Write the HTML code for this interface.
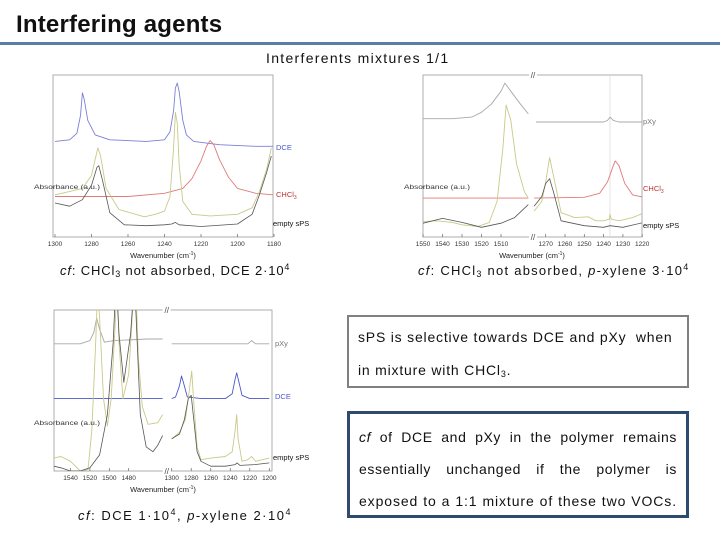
<!DOCTYPE html>
<html><head><meta charset="utf-8">
<style>
body{margin:0;background:#fff;}
#page{position:relative;width:720px;height:540px;overflow:hidden;font-family:"Liberation Sans",sans-serif;background:#fff;}
.abs{position:absolute;}
.cap{font-size:13px;color:#111;white-space:nowrap;}
.box{position:absolute;box-sizing:border-box;background:#fff;font-size:14px;color:#111;letter-spacing:0.6px;}
.jl{text-align:justify;text-align-last:justify;white-space:nowrap;}
sub{font-size:9px;vertical-align:-2px;}
sup{font-size:9px;vertical-align:5px;}
</style></head><body>
<div id="page">
<div class="abs" style="left:16px;top:11px;font-size:24px;font-weight:bold;color:#111;letter-spacing:0.2px;">Interfering agents</div>
<div class="abs" style="left:0;top:42px;width:720px;height:3px;background:#5a7fa6;"></div>
<div class="abs" style="left:266px;top:50px;font-size:14px;color:#111;letter-spacing:1.3px;">Interferents mixtures 1/1</div>
<svg id="charts" class="abs" style="left:0;top:0" width="720" height="540"></svg>
<div class="abs cap" style="left:60px;top:262px;letter-spacing:0.85px;"><i>cf</i>: CHCl<sub>3</sub> not absorbed, DCE 2·10<sup>4</sup></div>
<div class="abs cap" style="left:418px;top:262px;letter-spacing:1.25px;"><i>cf</i>: CHCl<sub>3</sub> not absorbed, <i>p</i>-xylene 3·10<sup>4</sup></div>
<div class="abs cap" style="left:78px;top:507px;letter-spacing:1.5px;"><i>cf</i>: DCE 1·10<sup>4</sup>, <i>p</i>-xylene 2·10<sup>4</sup></div>
<div class="box" style="left:347px;top:315px;width:342px;height:73px;border:2px solid #808080;padding:12px 9px;line-height:33px;white-space:nowrap;">
<div style="margin-top:-8px;letter-spacing:0.8px">sPS is selective towards DCE and pXy&nbsp; when</div><div style="letter-spacing:0.8px">in mixture with CHCl<sub>3</sub>.</div></div>
<div class="box" style="left:347px;top:411px;width:342px;height:107px;border:3px solid #2e4a6e;padding:7px 9px;line-height:32px;">
<div class="jl"><i>cf</i> of DCE and pXy in the polymer remains</div>
<div class="jl">essentially unchanged if the polymer is</div>
<div class="jl" style="letter-spacing:0.9px">exposed to a 1:1 mixture of these two VOCs.</div></div>
</div>
<script>
// ---- Chart 1 data ----
const c1_dce_wn=[1300,1292,1288,1286,1285,1284,1282,1278,1270,1250,1240,1237,1235,1234,1233,1232,1230,1228,1224,1210,1190,1180];
const c1_dce_v=[0.59,0.60,0.64,0.75,0.89,0.85,0.72,0.63,0.60,0.59,0.60,0.65,0.78,0.92,0.95,0.90,0.72,0.63,0.59,0.57,0.56,0.56];
const c1_chcl3_wn=[1300,1260,1240,1230,1225,1220,1217,1215,1213,1210,1205,1200,1190,1180];
const c1_chcl3_v=[0.25,0.25,0.27,0.30,0.36,0.47,0.56,0.595,0.57,0.48,0.37,0.30,0.27,0.26];
const c1_mix_wn=[1300,1285,1280,1278,1276.5,1275,1272,1265,1251,1245,1240,1237,1235,1234,1233,1232,1230,1225,1215,1200,1192,1188,1184,1181.5];
const c1_mix_v=[0.26,0.30,0.38,0.48,0.55,0.50,0.30,0.17,0.125,0.14,0.16,0.25,0.55,0.77,0.70,0.45,0.22,0.14,0.13,0.14,0.18,0.28,0.42,0.55];
const c1_sps_wn=[1300,1292,1285,1280,1277,1276,1274,1270,1262,1250,1240,1236,1234,1232,1220,1200,1192,1188,1184,1181.5];
const c1_sps_v=[0.21,0.19,0.23,0.32,0.43,0.44,0.35,0.15,0.075,0.07,0.075,0.08,0.09,0.075,0.065,0.08,0.14,0.26,0.40,0.50];
// ---- Chart 2 data (broken axis) ----
const c2_pxy_l_wn=[1550,1535,1525,1520,1515,1510,1508,1505,1500,1496];
const c2_pxy_l_v=[0.73,0.73,0.74,0.77,0.82,0.90,0.95,0.90,0.82,0.76];
const c2_pxy_r_wn=[1275,1250,1240,1238,1236.7,1235,1232,1219];
const c2_pxy_r_v=[0.71,0.71,0.71,0.72,0.74,0.72,0.71,0.71];
const c2_mix_l_wn=[1550,1543,1535,1530,1522,1516,1512,1509,1507.4,1505,1502,1498,1496];
const c2_mix_l_v=[0.095,0.10,0.09,0.075,0.065,0.09,0.22,0.55,0.815,0.72,0.45,0.28,0.24];
const c2_mix_r_wn=[1276,1272,1270,1268,1266,1262,1255,1248,1244,1240,1237,1236.7,1236,1232,1225,1219];
const c2_mix_r_v=[0.16,0.22,0.34,0.49,0.38,0.15,0.12,0.125,0.10,0.10,0.11,0.14,0.11,0.10,0.12,0.15];
const c2_sps_l_wn=[1550,1540,1530,1520,1510,1503,1496];
const c2_sps_l_v=[0.085,0.115,0.09,0.06,0.085,0.12,0.20];
const c2_sps_r_wn=[1276,1272,1270,1268,1266,1262,1250,1240,1236.7,1230,1219];
const c2_sps_r_v=[0.19,0.25,0.33,0.36,0.28,0.10,0.07,0.06,0.07,0.06,0.09];
const c2_chcl3_l_wn=[1550,1496];
const c2_chcl3_l_v=[0.24,0.24];
const c2_chcl3_r_wn=[1276,1250,1242,1238,1235,1234,1232,1229,1225,1219];
const c2_chcl3_r_v=[0.24,0.245,0.27,0.34,0.44,0.47,0.44,0.33,0.26,0.245];
// ---- Chart 3 data (broken axis) ----
const c3_pxy_l_wn=[1557,1530,1520,1516,1513,1510,1505,1495,1460,1445];
const c3_pxy_l_v=[0.79,0.79,0.81,0.86,0.95,0.88,0.80,0.81,0.82,0.82];
const c3_pxy_r_wn=[1300,1240,1222,1218,1214,1200];
const c3_pxy_r_v=[0.79,0.79,0.79,0.81,0.79,0.79];
const c3_dce_l_wn=[1557,1445];
const c3_dce_l_v=[0.45,0.45];
const c3_dce_r_wn=[1300,1296,1292,1290,1288,1284,1270,1245,1238,1235,1233.4,1231,1228,1220,1200];
const c3_dce_r_v=[0.45,0.46,0.53,0.59,0.55,0.46,0.45,0.45,0.48,0.57,0.61,0.55,0.47,0.45,0.45];
const c3_mix_l_wn=[1557,1550,1540,1530,1522,1518,1514,1512,1510,1506,1502,1498,1494,1492,1490,1486,1480,1476,1473,1470,1466,1460,1450,1445];
const c3_mix_l_v=[0.08,0.09,0.06,0.00,0.01,0.25,0.80,1.15,0.95,0.45,0.28,0.45,0.90,1.2,0.80,0.45,0.60,1.0,1.2,0.70,0.40,0.29,0.30,0.35];
const c3_mix_r_wn=[1300,1292,1286,1282,1279.5,1277,1274,1270,1260,1245,1238,1235,1233.4,1232,1228,1222,1218,1214,1200];
const c3_mix_r_v=[0.20,0.24,0.32,0.50,0.62,0.40,0.15,0.07,0.08,0.09,0.12,0.25,0.35,0.20,0.06,0.07,0.09,0.06,0.08];
const c3_sps_l_wn=[1557,1550,1540,1530,1520,1510,1502,1496,1493,1490,1485,1478,1474,1472,1468,1462,1455,1450,1445];
const c3_sps_l_v=[0.03,0.02,0.00,0.00,0.02,0.10,0.35,0.80,1.2,0.85,0.55,0.85,1.2,0.90,0.35,0.15,0.12,0.16,0.22];
const c3_sps_r_wn=[1300,1292,1287,1283,1280,1277,1274,1270,1260,1245,1235,1233,1230,1215,1200];
const c3_sps_r_v=[0.20,0.23,0.32,0.45,0.47,0.30,0.12,0.06,0.03,0.03,0.04,0.05,0.035,0.04,0.05];
// tick labels
const c1_ticks=[1300,1280,1260,1240,1220,1200,1180];
const c2_ticks_l=[1550,1540,1530,1520,1510];
const c2_ticks_r=[1270,1260,1250,1240,1230,1220];
const c3_ticks_l=[1540,1520,1500,1480];
const c3_ticks_r=[1300,1280,1260,1240,1220,1200];

const NS='http://www.w3.org/2000/svg';
const svg=document.getElementById('charts');
function mk(tag,attrs,parent){const e=document.createElementNS(NS,tag);for(const k in attrs)e.setAttribute(k,attrs[k]);(parent||svg).appendChild(e);return e;}
const COL={dce:'#7a7fd8',chcl3:'#e07a7a',mix:'#c9c98a',sps:'#555555',pxy:'#a8a8a8',dce3:'#4a56c8'};

function makeChart(id,L,R,T,B){
  const g=mk('g',{});
  
  
  const cp=mk('clipPath',{id:id+'-clip'},g);
  mk('rect',{x:L,y:T,width:R-L,height:B-T},cp);
  const frame=mk('rect',{x:L,y:T,width:R-L,height:B-T,fill:'none',stroke:'#999','stroke-width':0.8},g);
  
  
  const yv=v=>B-v*(B-T);
  return {g,L,R,T,B,yv};
}
function drawSeries(ch,seg,wn,vals,color,name,w){
  const p=wn.map((x,i)=>seg(x).toFixed(1)+','+ch.yv(vals[i]).toFixed(1)).join(' ');
  const pl=mk('polyline',{points:p,fill:'none',stroke:color,'stroke-width':w||0.9,'stroke-linejoin':'round','clip-path':'url(#'+ch.g.querySelector('clipPath').id+')'},ch.g);
  
  
}
function drawTicks(ch,seg,ticks){
  ticks.forEach(t=>{
    const x=seg(t);
    mk('line',{x1:x,x2:x,y1:ch.B,y2:ch.B-3,stroke:'#666','stroke-width':0.7},ch.g);
    const tx=mk('text',{x:x,y:ch.B+9,'font-size':6.5,'text-anchor':'middle',fill:'#333','font-family':'Liberation Sans'},ch.g);
    tx.textContent=t;
    
    
  });
}
function axisText(ch,cx,ylab,absY){
  const t=mk('text',{x:cx,y:ch.B+21,'font-size':7.5,'text-anchor':'middle',fill:'#222','font-family':'Liberation Sans'},ch.g);
  t.innerHTML='Wavenumber (cm<tspan dy="-3" font-size="5">-1</tspan><tspan dy="3">)</tspan>';
  
  
  const a=mk('text',{x:ylab,y:absY,'font-size':6,fill:'#333','font-family':'Liberation Sans',textLength:66,lengthAdjust:'spacingAndGlyphs'},ch.g);
  a.textContent='Absorbance (a.u.)';
  
  
}
function label(ch,x,y,txt,color,sub){
  const t=mk('text',{x:x,y:y,'font-size':7.5,fill:color,'font-family':'Liberation Sans'},ch.g);
  t.textContent=txt;
  if(sub){const s=mk('tspan',{dy:2,'font-size':5},t);s.textContent=sub;}
  
  
}
function breakMark(ch,x){
  [ch.T,ch.B].forEach(y=>{
    mk('rect',{x:x-4,y:y-3,width:8,height:6,fill:'#fff'},ch.g);
    const t=mk('text',{x:x,y:y+3,'font-size':8,'text-anchor':'middle',fill:'#444','font-family':'Liberation Sans'},ch.g);
    t.textContent='//';
    
    
  });
}

// Chart 1
const ch1=makeChart('chart-dce-chcl3',53,273,75,237);
const x1=w=>55+(1300-w)*(274-55)/120;
drawSeries(ch1,x1,c1_dce_wn,c1_dce_v,COL.dce,'dce-spectrum');
drawSeries(ch1,x1,c1_chcl3_wn,c1_chcl3_v,COL.chcl3,'chcl3-spectrum');
drawSeries(ch1,x1,c1_mix_wn,c1_mix_v,COL.mix,'mixture-spectrum');
drawSeries(ch1,x1,c1_sps_wn,c1_sps_v,COL.sps,'empty-sps-spectrum',0.8);
drawTicks(ch1,x1,c1_ticks);
axisText(ch1,163,34,189);
label(ch1,276,150,'DCE',COL.dce3);
label(ch1,276,197,'CHCl','#c03030','3');
label(ch1,273,226,'empty sPS','#111');

// Chart 2
const ch2=makeChart('chart-pxy-chcl3',423,642,75,237);
const x2l=w=>423+(1550-w)*1.95;
const x2r=w=>545.7+(1270-w)*1.93;
mk('line',{x1:610,x2:610,y1:75,y2:237,stroke:'#ddd','stroke-width':0.8},ch2.g);
drawSeries(ch2,x2l,c2_pxy_l_wn,c2_pxy_l_v,COL.pxy,'pxy-spectrum-left');
drawSeries(ch2,x2r,c2_pxy_r_wn,c2_pxy_r_v,COL.pxy,'pxy-spectrum-right');
drawSeries(ch2,x2l,c2_chcl3_l_wn,c2_chcl3_l_v,COL.chcl3,'chcl3-spectrum-left');
drawSeries(ch2,x2r,c2_chcl3_r_wn,c2_chcl3_r_v,COL.chcl3,'chcl3-spectrum-right');
drawSeries(ch2,x2l,c2_mix_l_wn,c2_mix_l_v,COL.mix,'mixture-spectrum-left');
drawSeries(ch2,x2r,c2_mix_r_wn,c2_mix_r_v,COL.mix,'mixture-spectrum-right');
drawSeries(ch2,x2l,c2_sps_l_wn,c2_sps_l_v,COL.sps,'empty-sps-spectrum-left',0.8);
drawSeries(ch2,x2r,c2_sps_r_wn,c2_sps_r_v,COL.sps,'empty-sps-spectrum-right',0.8);
drawTicks(ch2,x2l,c2_ticks_l);
drawTicks(ch2,x2r,c2_ticks_r);
breakMark(ch2,533);
axisText(ch2,532,404,189);
label(ch2,643,124,'pXy','#777');
label(ch2,643,191,'CHCl','#c03030','3');
label(ch2,643,228,'empty sPS','#111');

// Chart 3
const ch3=makeChart('chart-dce-pxy',54,272,310,471);
const x3l=w=>128.7+(1480-w)*0.97;
const x3r=w=>171.7+(1300-w)*0.976;
drawSeries(ch3,x3l,c3_pxy_l_wn,c3_pxy_l_v,COL.pxy,'pxy-spectrum-left');
drawSeries(ch3,x3r,c3_pxy_r_wn,c3_pxy_r_v,COL.pxy,'pxy-spectrum-right');
drawSeries(ch3,x3l,c3_dce_l_wn,c3_dce_l_v,COL.dce3,'dce-spectrum-left');
drawSeries(ch3,x3r,c3_dce_r_wn,c3_dce_r_v,COL.dce3,'dce-spectrum-right');
drawSeries(ch3,x3l,c3_mix_l_wn,c3_mix_l_v,COL.mix,'mixture-spectrum-left');
drawSeries(ch3,x3r,c3_mix_r_wn,c3_mix_r_v,COL.mix,'mixture-spectrum-right');
drawSeries(ch3,x3l,c3_sps_l_wn,c3_sps_l_v,COL.sps,'empty-sps-spectrum-left',0.8);
drawSeries(ch3,x3r,c3_sps_r_wn,c3_sps_r_v,COL.sps,'empty-sps-spectrum-right',0.8);
drawTicks(ch3,x3l,c3_ticks_l);
drawTicks(ch3,x3r,c3_ticks_r);
breakMark(ch3,166.7);
axisText(ch3,163,34,425);
label(ch3,275,346,'pXy','#777');
label(ch3,275,399,'DCE',COL.dce3);
label(ch3,273,460,'empty sPS','#111');
</script>
</body></html>
